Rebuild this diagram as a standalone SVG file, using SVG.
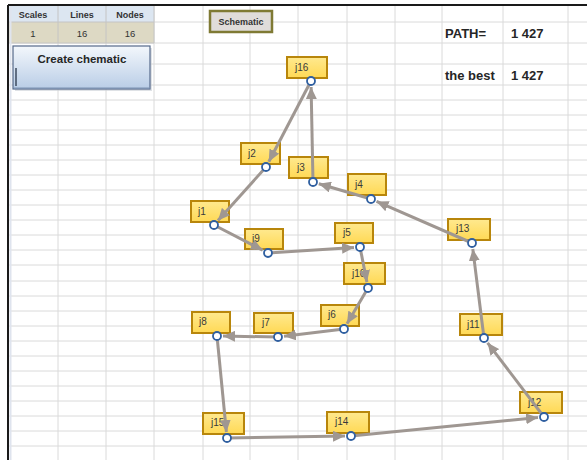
<svg xmlns="http://www.w3.org/2000/svg" width="587" height="460" viewBox="0 0 587 460">
<style>
.grid line{stroke:#dadada;stroke-width:1}
.hdr{font-family:"Liberation Sans",Arial,sans-serif;font-weight:bold;font-size:9px;fill:#333;text-anchor:middle}
.val{font-family:"Liberation Sans",Arial,sans-serif;font-size:9.5px;fill:#333;text-anchor:middle}
.big{font-family:"Liberation Sans",Arial,sans-serif;font-weight:bold;font-size:13px;fill:#262626}
.node rect{fill:url(#ng);stroke:#b8860b;stroke-width:2}
.node text{font-family:"Liberation Sans",Arial,sans-serif;font-size:10px;fill:#3a3a3a}
.conn path{fill:none;stroke:#9f9792;stroke-width:3;marker-start:url(#dot);marker-end:url(#arr)}
</style>
<defs>
<linearGradient id="ng" x1="0" y1="0" x2="0" y2="1"><stop offset="0" stop-color="#ffe98f"/><stop offset="1" stop-color="#ffd955"/></linearGradient>
<linearGradient id="bg" x1="0" y1="0" x2="0" y2="1"><stop offset="0" stop-color="#f3f7fc"/><stop offset="1" stop-color="#b9cde6"/></linearGradient>
<marker id="arr" markerUnits="userSpaceOnUse" markerWidth="13" markerHeight="11" refX="12" refY="5.5" orient="auto"><path d="M0,0 L12,5.5 L0,11 z" fill="#9f9792"/></marker>
<marker id="dot" markerUnits="userSpaceOnUse" markerWidth="12" markerHeight="12" refX="6" refY="6"><circle cx="6" cy="6" r="4" fill="#fff" stroke="#2f5fa0" stroke-width="1.8"/></marker>
</defs>
<rect x="0" y="0" width="587" height="460" fill="#fff"/>
<g class="grid">
<line x1="8" y1="22" x2="587" y2="22"/><line x1="8" y1="43" x2="587" y2="43"/><line x1="8" y1="64" x2="587" y2="64"/><line x1="8" y1="85" x2="587" y2="85"/>
<line x1="8" y1="100" x2="587" y2="100"/><line x1="8" y1="115" x2="587" y2="115"/><line x1="8" y1="130" x2="587" y2="130"/><line x1="8" y1="145" x2="587" y2="145"/>
<line x1="8" y1="160" x2="587" y2="160"/><line x1="8" y1="175" x2="587" y2="175"/><line x1="8" y1="190" x2="587" y2="190"/><line x1="8" y1="205" x2="587" y2="205"/>
<line x1="8" y1="220" x2="587" y2="220"/><line x1="8" y1="235" x2="587" y2="235"/><line x1="8" y1="250" x2="587" y2="250"/><line x1="8" y1="265" x2="587" y2="265"/>
<line x1="8" y1="281" x2="587" y2="281"/><line x1="8" y1="296" x2="587" y2="296"/><line x1="8" y1="311" x2="587" y2="311"/><line x1="8" y1="326" x2="587" y2="326"/>
<line x1="8" y1="341" x2="587" y2="341"/><line x1="8" y1="356" x2="587" y2="356"/><line x1="8" y1="371" x2="587" y2="371"/><line x1="8" y1="386" x2="587" y2="386"/>
<line x1="8" y1="401" x2="587" y2="401"/><line x1="8" y1="416" x2="587" y2="416"/><line x1="8" y1="431" x2="587" y2="431"/><line x1="8" y1="446" x2="587" y2="446"/>
<line x1="58" y1="5" x2="58" y2="460"/><line x1="106" y1="5" x2="106" y2="460"/><line x1="154" y1="5" x2="154" y2="460"/><line x1="203" y1="5" x2="203" y2="460"/>
<line x1="250" y1="5" x2="250" y2="460"/><line x1="298" y1="5" x2="298" y2="460"/><line x1="347" y1="5" x2="347" y2="460"/><line x1="395" y1="5" x2="395" y2="460"/>
<line x1="442" y1="5" x2="442" y2="460"/><line x1="503" y1="5" x2="503" y2="460"/><line x1="568" y1="5" x2="568" y2="460"/>
</g>
<g id="table">
<rect x="8" y="5" width="146" height="17" fill="#dce6f1"/>
<rect x="8" y="22" width="146" height="21" fill="#ddd9c4"/>
<g stroke="#c4c4c4" stroke-width="1"><line x1="58" y1="5" x2="58" y2="43"/><line x1="106" y1="5" x2="106" y2="43"/><line x1="154" y1="5" x2="154" y2="43"/><line x1="8" y1="22" x2="154" y2="22"/><line x1="8" y1="43" x2="154" y2="43"/></g>
<text class="hdr" x="33" y="18">Scales</text><text class="hdr" x="82" y="18">Lines</text><text class="hdr" x="130" y="18">Nodes</text>
<text class="val" x="33" y="37">1</text><text class="val" x="82" y="37">16</text><text class="val" x="130" y="37">16</text>
</g>
<line x1="8" y1="5" x2="587" y2="5" stroke="#1a1a1a" stroke-width="2"/>
<line x1="8" y1="5" x2="8" y2="460" stroke="#1a1a1a" stroke-width="2"/>
<line x1="10.5" y1="6" x2="10.5" y2="460" stroke="#dfe4ee" stroke-width="2"/>
<g id="create-button">
<rect x="15" y="48" width="137" height="43" fill="#c9ced6" opacity="0.6"/>
<rect x="13" y="46" width="137" height="43" fill="url(#bg)" stroke="#55698a" stroke-width="1.2"/>
<line x1="16" y1="68" x2="16" y2="86" stroke="#3d4a5e" stroke-width="1.5"/>
<line x1="14" y1="88" x2="150" y2="88" stroke="#7f93b3" stroke-width="1.2"/>
<text x="82" y="63" text-anchor="middle" font-family="'Liberation Sans',Arial,sans-serif" font-weight="bold" font-size="11.5" fill="#262626">Create chematic</text>
</g>
<g id="schematic-button">
<rect x="210" y="11" width="62" height="21" fill="#e0dcda" stroke="#7f7a34" stroke-width="2.5"/>
<text class="hdr" x="241" y="25">Schematic</text>
</g>
<g id="stats">
<text class="big" x="445" y="38">PATH=</text><text class="big" x="511" y="38">1 427</text>
<text class="big" x="445" y="80">the best</text><text class="big" x="511" y="80">1 427</text>
</g>
<g id="nodes">
<g id="j16" class="node"><rect x="287" y="57" width="40" height="21"/><text x="295" y="71">j16</text></g>
<g id="j2" class="node"><rect x="241" y="143" width="39" height="21"/><text x="248" y="157">j2</text></g>
<g id="j3" class="node"><rect x="289" y="157" width="39" height="21"/><text x="297" y="171">j3</text></g>
<g id="j4" class="node"><rect x="348" y="174" width="38" height="21"/><text x="355" y="188">j4</text></g>
<g id="j1" class="node"><rect x="191" y="201" width="38" height="21"/><text x="198" y="215">j1</text></g>
<g id="j9" class="node"><rect x="245" y="229" width="38" height="20"/><text x="252" y="242">j9</text></g>
<g id="j5" class="node"><rect x="335" y="223" width="38" height="20"/><text x="343" y="236">j5</text></g>
<g id="j10" class="node"><rect x="344" y="263" width="41" height="21"/><text x="352" y="277">j10</text></g>
<g id="j6" class="node"><rect x="321" y="305" width="38" height="21"/><text x="328" y="318">j6</text></g>
<g id="j7" class="node"><rect x="254" y="313" width="39" height="20"/><text x="262" y="326">j7</text></g>
<g id="j8" class="node"><rect x="192" y="312" width="38" height="21"/><text x="199" y="325">j8</text></g>
<g id="j13" class="node"><rect x="448" y="219" width="42" height="21"/><text x="456" y="232">j13</text></g>
<g id="j11" class="node"><rect x="460" y="314" width="42" height="21"/><text x="467" y="328">j11</text></g>
<g id="j12" class="node"><rect x="520" y="392" width="42" height="21"/><text x="528" y="406">j12</text></g>
<g id="j15" class="node"><rect x="203" y="413" width="41" height="21"/><text x="211" y="426">j15</text></g>
<g id="j14" class="node"><rect x="327" y="412" width="42" height="21"/><text x="335" y="425">j14</text></g>
</g>
<g id="connectors" class="conn">
<path d="M311,81 L268.8,161.7"/>
<path d="M266,167 L218,220.5"/>
<path d="M214,225 L262.7,250.2"/>
<path d="M268,253 L354,247.4"/>
<path d="M360,247 L366.9,282.1"/>
<path d="M368,288 L347,323.8"/>
<path d="M344,329 L284,336.3"/>
<path d="M278,337 L223,336.1"/>
<path d="M217,336 L226.4,432"/>
<path d="M227,438 L345,436.1"/>
<path d="M351,436 L538,417.6"/>
<path d="M544,417 L487.6,342.8"/>
<path d="M484,338 L472.8,249"/>
<path d="M472,243 L376.5,201.4"/>
<path d="M371,199 L318.8,183.7"/>
<path d="M313,182 L311.1,87"/>
</g>
</svg>
